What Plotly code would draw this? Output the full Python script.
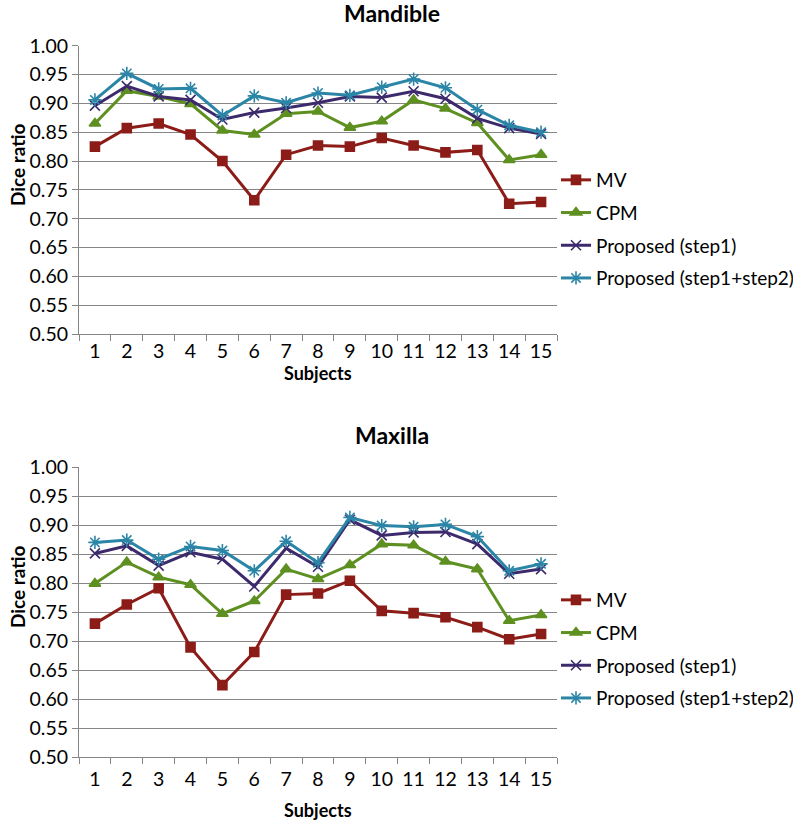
import plotly.graph_objects as go

subjects = [str(i) for i in range(1, 16)]
series_names = ["MV", "CPM", "Proposed (step1)", "Proposed (step1+step2)"]

mandible_mv = [0.825, 0.857, 0.865, 0.846, 0.800, 0.732, 0.811, 0.827, 0.825, 0.840, 0.827, 0.815, 0.819, 0.726, 0.729]
mandible_cpm = [0.865, 0.922, 0.912, 0.899, 0.853, 0.846, 0.882, 0.886, 0.858, 0.869, 0.906, 0.891, 0.866, 0.802, 0.811]
mandible_step1 = [0.896, 0.930, 0.912, 0.906, 0.872, 0.884, 0.892, 0.901, 0.912, 0.910, 0.921, 0.908, 0.874, 0.857, 0.847]
mandible_step2 = [0.906, 0.952, 0.925, 0.926, 0.879, 0.913, 0.901, 0.918, 0.914, 0.928, 0.942, 0.927, 0.889, 0.862, 0.850]

maxilla_mv = [0.730, 0.763, 0.791, 0.689, 0.624, 0.681, 0.780, 0.782, 0.804, 0.752, 0.748, 0.741, 0.724, 0.703, 0.712]
maxilla_cpm = [0.799, 0.836, 0.810, 0.797, 0.747, 0.769, 0.824, 0.807, 0.831, 0.867, 0.865, 0.837, 0.824, 0.735, 0.745]
maxilla_step1 = [0.851, 0.864, 0.830, 0.853, 0.841, 0.794, 0.860, 0.828, 0.909, 0.882, 0.887, 0.888, 0.867, 0.816, 0.824]
maxilla_step2 = [0.870, 0.874, 0.841, 0.863, 0.856, 0.821, 0.872, 0.835, 0.913, 0.899, 0.897, 0.901, 0.880, 0.821, 0.833]

y_ticks = [0.50, 0.55, 0.60, 0.65, 0.70, 0.75, 0.80, 0.85, 0.90, 0.95, 1.00]

colors = ["#8C1C17", "#5E9021", "#3D2A6C", "#2B85A6"]
symbols = ["square", "triangle-up", "x-thin-open", "asterisk-open"]
msizes = [9, 10, 10, 11]

FONT = "Lato"
fig = go.Figure()

panels = [
    ([mandible_mv, mandible_cpm, mandible_step1, mandible_step2], "x", "y", "legend"),
    ([maxilla_mv, maxilla_cpm, maxilla_step1, maxilla_step2], "x2", "y2", "legend2"),
]
for p, (data, xa, ya, lg) in enumerate(panels):
    for i, (name, vals) in enumerate(zip(series_names, data)):
        fig.add_trace(go.Scatter(
            x=subjects, y=vals, name=name, mode="lines+markers",
            xaxis=xa, yaxis=ya, legend=lg, legendgroup=f"{p}{i}",
            line=dict(color=colors[i], width=3),
            marker=dict(symbol=symbols[i], size=msizes[i], color=colors[i],
                        line=dict(color=colors[i], width=1.6)),
        ))

axis_common_x = dict(
    type="category", range=[-0.5, 14.5], tickson="boundaries", ticks="outside",
    ticklen=6, tickcolor="#868686", showline=True, linecolor="#868686", linewidth=1,
    showgrid=False, zeroline=False, automargin=False,
    tickfont=dict(family=FONT, size=19.5, color="#000"),
)
axis_common_y = dict(
    range=[0.5, 1.0], tickvals=y_ticks, ticktext=[f"{v:.2f}" for v in y_ticks],
    ticks="outside", ticklen=6, tickcolor="#868686", showline=True, linecolor="#868686",
    linewidth=1, showgrid=True, gridcolor="#868686", gridwidth=1, zeroline=False,
    automargin=False, tickfont=dict(family=FONT, size=19.5, color="#000"),
)

W, H = 793, 822
def py(pix):
    return 1 - pix / H

def px(pix):
    return pix / W

legend_common = dict(xanchor="left", yanchor="top", x=px(556),
                     font=dict(family=FONT, size=19, color="#000"), tracegroupgap=5,
                     itemwidth=30, bgcolor="rgba(0,0,0,0)", borderwidth=0)

def label(text, x, y, size, angle=0):
    return dict(text=text, x=px(x), y=py(y), xref="paper", yref="paper",
                xanchor="center", yanchor="middle", showarrow=False, textangle=angle,
                font=dict(family=FONT, size=size, color="#000"))

fig.update_layout(
    width=W, height=H, margin=dict(l=0, r=0, t=0, b=0, autoexpand=False),
    paper_bgcolor="white", plot_bgcolor="white",
    xaxis=dict(axis_common_x, domain=[px(79), px(557)], anchor="y", ticklabelstandoff=0),
    yaxis=dict(axis_common_y, domain=[py(334), py(45.7)], anchor="x"),
    xaxis2=dict(axis_common_x, domain=[px(79), px(557)], anchor="y2", ticklabelstandoff=5),
    yaxis2=dict(axis_common_y, domain=[py(757), py(467)], anchor="x2"),
    legend=dict(legend_common, y=py(161)),
    legend2=dict(legend_common, y=py(581)),
    showlegend=True,
    annotations=[
        label("<b>Mandible</b>", 392, 13, 23),
        label("<b>Maxilla</b>", 392, 435, 23),
        label("<b>Dice ratio</b>", 17, 165, 19, -90),
        label("<b>Dice ratio</b>", 17, 587, 19, -90),
        label("<b>Subjects</b>", 318, 373, 18),
        label("<b>Subjects</b>", 318, 810, 18),
    ],
)

fig.write_html("out.html", config={"displayModeBar": False},
               post_script="document.body.style.margin='0';document.body.style.overflow='hidden';")
